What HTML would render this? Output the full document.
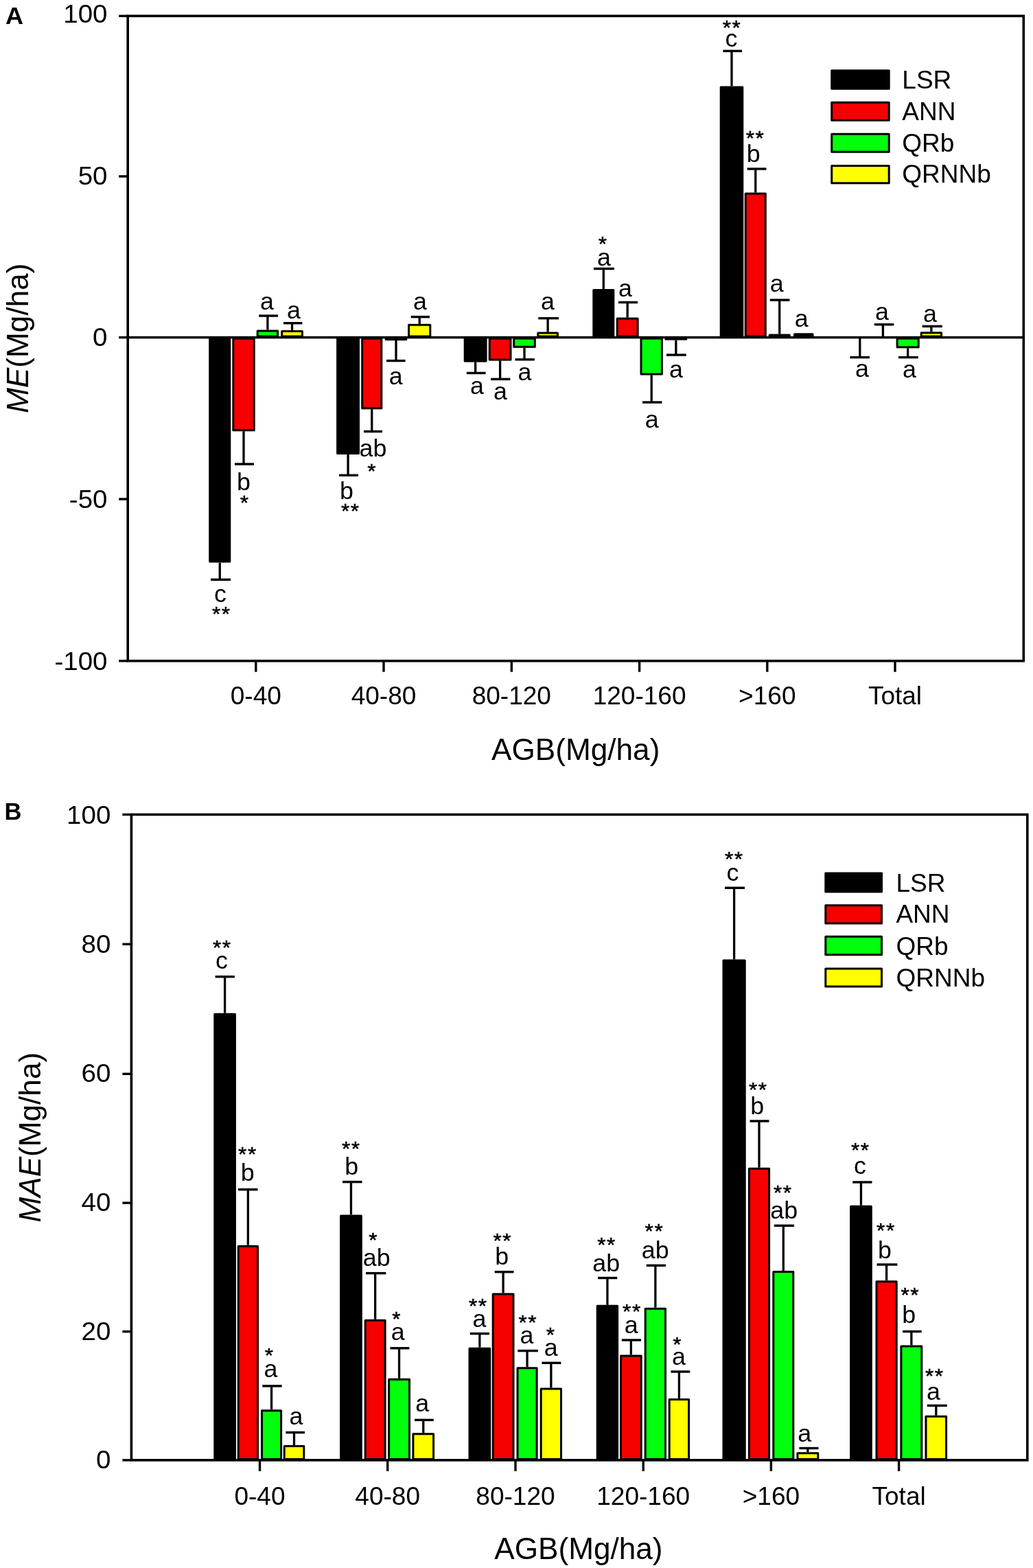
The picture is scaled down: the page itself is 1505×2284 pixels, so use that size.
<!DOCTYPE html>
<html lang="en">
<head>
<meta charset="utf-8">
<title>ME and MAE by AGB class</title>
<style>
html,body{margin:0;padding:0;background:#fff;}
body{width:1505px;height:2284px;overflow:hidden;}
svg{display:block;}
svg text{font-family:"Liberation Sans",sans-serif;fill:#000;}
</style>
</head>
<body>
<svg role="img" aria-label="Bar charts of ME and MAE by AGB class for LSR, ANN, QRb and QRNNb" width="1505" height="2284" viewBox="0 0 1505 2284">
<rect x="0" y="0" width="1505" height="2284" fill="#ffffff"/>
<line x1="320.25" y1="819.60" x2="320.25" y2="844.30" stroke="#000" stroke-width="3.3" stroke-linecap="butt"/>
<line x1="307.00" y1="844.30" x2="336.00" y2="844.30" stroke="#000" stroke-width="3.4" stroke-linecap="butt"/>
<rect x="305.70" y="493.00" width="29.10" height="325.10" fill="#000000" stroke="#000" stroke-width="3.0" stroke-linejoin="round"/>
<text transform="translate(321.00,876.50) scale(1.01,1)" font-size="35.5" text-anchor="middle">c</text>
<text transform="translate(322.80,904.30) scale(1.07,1)" font-size="29.5" text-anchor="middle" letter-spacing="1.5" stroke="#000" stroke-width="0.5">**</text>
<line x1="355.00" y1="628.20" x2="355.00" y2="676.00" stroke="#000" stroke-width="3.3" stroke-linecap="butt"/>
<line x1="342.00" y1="676.00" x2="370.00" y2="676.00" stroke="#000" stroke-width="3.4" stroke-linecap="butt"/>
<rect x="339.80" y="493.00" width="30.40" height="133.70" fill="#f60000" stroke="#000" stroke-width="3.0" stroke-linejoin="round"/>
<text transform="translate(355.00,713.90) scale(1.01,1)" font-size="35.5" text-anchor="middle">b</text>
<text transform="translate(356.80,741.50) scale(1.07,1)" font-size="29.5" text-anchor="middle" letter-spacing="1.5" stroke="#000" stroke-width="0.5">*</text>
<line x1="389.90" y1="480.40" x2="389.90" y2="460.00" stroke="#000" stroke-width="3.3" stroke-linecap="butt"/>
<line x1="377.20" y1="460.00" x2="405.00" y2="460.00" stroke="#000" stroke-width="3.4" stroke-linecap="butt"/>
<rect x="375.20" y="481.90" width="29.40" height="8.10" fill="#00ff0c" stroke="#000" stroke-width="3.0" stroke-linejoin="round"/>
<text transform="translate(389.00,451.40) scale(1.01,1)" font-size="35.5" text-anchor="middle">a</text>
<line x1="425.55" y1="480.90" x2="425.55" y2="470.70" stroke="#000" stroke-width="3.3" stroke-linecap="butt"/>
<line x1="413.00" y1="470.70" x2="440.40" y2="470.70" stroke="#000" stroke-width="3.4" stroke-linecap="butt"/>
<rect x="410.70" y="482.40" width="29.70" height="7.60" fill="#ffff00" stroke="#000" stroke-width="3.0" stroke-linejoin="round"/>
<text transform="translate(428.00,463.50) scale(1.01,1)" font-size="35.5" text-anchor="middle">a</text>
<line x1="507.05" y1="662.00" x2="507.05" y2="692.30" stroke="#000" stroke-width="3.3" stroke-linecap="butt"/>
<line x1="494.00" y1="692.30" x2="522.00" y2="692.30" stroke="#000" stroke-width="3.4" stroke-linecap="butt"/>
<rect x="491.60" y="493.00" width="30.90" height="167.50" fill="#000000" stroke="#000" stroke-width="3.0" stroke-linejoin="round"/>
<text transform="translate(505.00,726.80) scale(1.01,1)" font-size="35.5" text-anchor="middle">b</text>
<text transform="translate(510.80,753.50) scale(1.07,1)" font-size="29.5" text-anchor="middle" letter-spacing="1.5" stroke="#000" stroke-width="0.5">**</text>
<line x1="541.75" y1="596.20" x2="541.75" y2="628.50" stroke="#000" stroke-width="3.3" stroke-linecap="butt"/>
<line x1="530.00" y1="628.50" x2="557.00" y2="628.50" stroke="#000" stroke-width="3.4" stroke-linecap="butt"/>
<rect x="527.70" y="493.00" width="28.10" height="101.70" fill="#f60000" stroke="#000" stroke-width="3.0" stroke-linejoin="round"/>
<text transform="translate(543.50,664.90) scale(1.01,1)" font-size="35.5" text-anchor="middle">ab</text>
<text transform="translate(542.20,696.20) scale(1.07,1)" font-size="29.5" text-anchor="middle" letter-spacing="1.5" stroke="#000" stroke-width="0.5">*</text>
<line x1="577.00" y1="496.00" x2="577.00" y2="525.50" stroke="#000" stroke-width="3.3" stroke-linecap="butt"/>
<line x1="563.00" y1="525.50" x2="590.60" y2="525.50" stroke="#000" stroke-width="3.4" stroke-linecap="butt"/>
<rect x="562.20" y="493.00" width="29.60" height="1.50" fill="#000000" stroke="#000" stroke-width="3.0" stroke-linejoin="round"/>
<text transform="translate(576.70,559.50) scale(1.01,1)" font-size="35.5" text-anchor="middle">a</text>
<line x1="611.20" y1="471.80" x2="611.20" y2="461.60" stroke="#000" stroke-width="3.3" stroke-linecap="butt"/>
<line x1="598.70" y1="461.60" x2="626.00" y2="461.60" stroke="#000" stroke-width="3.4" stroke-linecap="butt"/>
<rect x="595.60" y="473.30" width="31.20" height="16.70" fill="#ffff00" stroke="#000" stroke-width="3.0" stroke-linejoin="round"/>
<text transform="translate(612.00,450.60) scale(1.01,1)" font-size="35.5" text-anchor="middle">a</text>
<line x1="692.65" y1="527.40" x2="692.65" y2="543.40" stroke="#000" stroke-width="3.3" stroke-linecap="butt"/>
<line x1="679.80" y1="543.40" x2="707.60" y2="543.40" stroke="#000" stroke-width="3.4" stroke-linecap="butt"/>
<rect x="677.20" y="493.00" width="30.90" height="32.90" fill="#000000" stroke="#000" stroke-width="3.0" stroke-linejoin="round"/>
<text transform="translate(695.00,573.90) scale(1.01,1)" font-size="35.5" text-anchor="middle">a</text>
<line x1="728.60" y1="525.40" x2="728.60" y2="552.30" stroke="#000" stroke-width="3.3" stroke-linecap="butt"/>
<line x1="715.00" y1="552.30" x2="743.40" y2="552.30" stroke="#000" stroke-width="3.4" stroke-linecap="butt"/>
<rect x="713.20" y="493.00" width="30.80" height="30.90" fill="#f60000" stroke="#000" stroke-width="3.0" stroke-linejoin="round"/>
<text transform="translate(729.00,582.20) scale(1.01,1)" font-size="35.5" text-anchor="middle">a</text>
<line x1="764.00" y1="506.70" x2="764.00" y2="523.70" stroke="#000" stroke-width="3.3" stroke-linecap="butt"/>
<line x1="750.50" y1="523.70" x2="778.80" y2="523.70" stroke="#000" stroke-width="3.4" stroke-linecap="butt"/>
<rect x="748.70" y="493.00" width="30.60" height="12.20" fill="#00ff0c" stroke="#000" stroke-width="3.0" stroke-linejoin="round"/>
<text transform="translate(764.40,553.70) scale(1.01,1)" font-size="35.5" text-anchor="middle">a</text>
<line x1="798.10" y1="483.60" x2="798.10" y2="463.60" stroke="#000" stroke-width="3.3" stroke-linecap="butt"/>
<line x1="784.30" y1="463.60" x2="814.00" y2="463.60" stroke="#000" stroke-width="3.4" stroke-linecap="butt"/>
<rect x="783.80" y="485.10" width="28.60" height="4.90" fill="#ffff00" stroke="#000" stroke-width="3.0" stroke-linejoin="round"/>
<text transform="translate(798.00,450.90) scale(1.01,1)" font-size="35.5" text-anchor="middle">a</text>
<line x1="879.30" y1="420.90" x2="879.30" y2="391.40" stroke="#000" stroke-width="3.3" stroke-linecap="butt"/>
<line x1="865.00" y1="391.40" x2="895.00" y2="391.40" stroke="#000" stroke-width="3.4" stroke-linecap="butt"/>
<rect x="864.80" y="422.40" width="29.00" height="67.60" fill="#000000" stroke="#000" stroke-width="3.0" stroke-linejoin="round"/>
<text transform="translate(880.00,386.90) scale(1.01,1)" font-size="35.5" text-anchor="middle">a</text>
<text transform="translate(878.80,364.50) scale(1.07,1)" font-size="29.5" text-anchor="middle" letter-spacing="1.5" stroke="#000" stroke-width="0.5">*</text>
<line x1="914.15" y1="462.60" x2="914.15" y2="440.40" stroke="#000" stroke-width="3.3" stroke-linecap="butt"/>
<line x1="901.00" y1="440.40" x2="929.00" y2="440.40" stroke="#000" stroke-width="3.4" stroke-linecap="butt"/>
<rect x="899.20" y="464.10" width="29.90" height="25.90" fill="#f60000" stroke="#000" stroke-width="3.0" stroke-linejoin="round"/>
<text transform="translate(911.00,431.70) scale(1.01,1)" font-size="35.5" text-anchor="middle">a</text>
<line x1="949.20" y1="546.40" x2="949.20" y2="586.00" stroke="#000" stroke-width="3.3" stroke-linecap="butt"/>
<line x1="936.00" y1="586.00" x2="964.40" y2="586.00" stroke="#000" stroke-width="3.4" stroke-linecap="butt"/>
<rect x="934.00" y="493.00" width="30.40" height="51.90" fill="#00ff0c" stroke="#000" stroke-width="3.0" stroke-linejoin="round"/>
<text transform="translate(949.70,622.90) scale(1.01,1)" font-size="35.5" text-anchor="middle">a</text>
<line x1="984.85" y1="495.50" x2="984.85" y2="517.00" stroke="#000" stroke-width="3.3" stroke-linecap="butt"/>
<line x1="971.00" y1="517.00" x2="999.70" y2="517.00" stroke="#000" stroke-width="3.4" stroke-linecap="butt"/>
<rect x="969.90" y="493.00" width="29.90" height="1.00" fill="#000000" stroke="#000" stroke-width="3.0" stroke-linejoin="round"/>
<text transform="translate(985.00,550.40) scale(1.01,1)" font-size="35.5" text-anchor="middle">a</text>
<line x1="1066.00" y1="125.40" x2="1066.00" y2="74.30" stroke="#000" stroke-width="3.3" stroke-linecap="butt"/>
<line x1="1053.40" y1="74.30" x2="1081.00" y2="74.30" stroke="#000" stroke-width="3.4" stroke-linecap="butt"/>
<rect x="1050.20" y="126.90" width="31.60" height="363.10" fill="#000000" stroke="#000" stroke-width="3.0" stroke-linejoin="round"/>
<text transform="translate(1065.50,68.10) scale(1.01,1)" font-size="35.5" text-anchor="middle">c</text>
<text transform="translate(1066.60,49.90) scale(1.07,1)" font-size="29.5" text-anchor="middle" letter-spacing="1.5" stroke="#000" stroke-width="0.5">**</text>
<line x1="1100.75" y1="280.50" x2="1100.75" y2="246.00" stroke="#000" stroke-width="3.3" stroke-linecap="butt"/>
<line x1="1088.70" y1="246.00" x2="1116.50" y2="246.00" stroke="#000" stroke-width="3.4" stroke-linecap="butt"/>
<rect x="1086.20" y="282.00" width="29.10" height="208.00" fill="#f60000" stroke="#000" stroke-width="3.0" stroke-linejoin="round"/>
<text transform="translate(1097.60,235.90) scale(1.01,1)" font-size="35.5" text-anchor="middle">b</text>
<text transform="translate(1100.60,211.00) scale(1.07,1)" font-size="29.5" text-anchor="middle" letter-spacing="1.5" stroke="#000" stroke-width="0.5">**</text>
<line x1="1135.70" y1="486.60" x2="1135.70" y2="437.00" stroke="#000" stroke-width="3.3" stroke-linecap="butt"/>
<line x1="1121.80" y1="437.00" x2="1150.50" y2="437.00" stroke="#000" stroke-width="3.4" stroke-linecap="butt"/>
<rect x="1121.20" y="488.10" width="29.00" height="1.90" fill="#000000" stroke="#000" stroke-width="3.0" stroke-linejoin="round"/>
<text transform="translate(1131.80,424.60) scale(1.01,1)" font-size="35.5" text-anchor="middle">a</text>
<rect x="1157.50" y="486.70" width="26.50" height="3.30" fill="#000000" stroke="#000" stroke-width="3.0" stroke-linejoin="round"/>
<text transform="translate(1167.70,475.90) scale(1.01,1)" font-size="35.5" text-anchor="middle">a</text>
<line x1="1252.80" y1="491.50" x2="1252.80" y2="520.50" stroke="#000" stroke-width="3.3" stroke-linecap="butt"/>
<line x1="1238.40" y1="520.50" x2="1267.00" y2="520.50" stroke="#000" stroke-width="3.4" stroke-linecap="butt"/>
<text transform="translate(1256.00,548.60) scale(1.01,1)" font-size="35.5" text-anchor="middle">a</text>
<line x1="1286.40" y1="491.50" x2="1286.40" y2="472.70" stroke="#000" stroke-width="3.3" stroke-linecap="butt"/>
<line x1="1273.80" y1="472.70" x2="1302.30" y2="472.70" stroke="#000" stroke-width="3.4" stroke-linecap="butt"/>
<text transform="translate(1285.00,465.90) scale(1.01,1)" font-size="35.5" text-anchor="middle">a</text>
<line x1="1322.65" y1="507.30" x2="1322.65" y2="520.50" stroke="#000" stroke-width="3.3" stroke-linecap="butt"/>
<line x1="1309.00" y1="520.50" x2="1337.70" y2="520.50" stroke="#000" stroke-width="3.4" stroke-linecap="butt"/>
<rect x="1307.10" y="493.00" width="31.10" height="12.80" fill="#00ff0c" stroke="#000" stroke-width="3.0" stroke-linejoin="round"/>
<text transform="translate(1325.00,550.40) scale(1.01,1)" font-size="35.5" text-anchor="middle">a</text>
<line x1="1356.90" y1="483.20" x2="1356.90" y2="475.30" stroke="#000" stroke-width="3.3" stroke-linecap="butt"/>
<line x1="1343.70" y1="475.30" x2="1372.80" y2="475.30" stroke="#000" stroke-width="3.4" stroke-linecap="butt"/>
<rect x="1342.20" y="484.70" width="29.40" height="5.30" fill="#ffff00" stroke="#000" stroke-width="3.0" stroke-linejoin="round"/>
<text transform="translate(1355.00,468.60) scale(1.01,1)" font-size="35.5" text-anchor="middle">a</text>
<rect x="186.2" y="23.3" width="1305.1" height="939.4000000000001" fill="none" stroke="#000" stroke-width="3.6"/>
<line x1="186.20" y1="491.50" x2="1491.30" y2="491.50" stroke="#000" stroke-width="3.4" stroke-linecap="butt"/>
<line x1="173.20" y1="23.30" x2="186.20" y2="23.30" stroke="#000" stroke-width="3.4" stroke-linecap="butt"/>
<text transform="translate(156.50,33.00) scale(1.03,1)" font-size="37.4" text-anchor="end">100</text>
<line x1="173.20" y1="256.90" x2="186.20" y2="256.90" stroke="#000" stroke-width="3.4" stroke-linecap="butt"/>
<text transform="translate(156.50,268.70) scale(1.03,1)" font-size="37.4" text-anchor="end">50</text>
<line x1="173.20" y1="491.50" x2="186.20" y2="491.50" stroke="#000" stroke-width="3.4" stroke-linecap="butt"/>
<text transform="translate(156.50,504.20) scale(1.03,1)" font-size="37.4" text-anchor="end">0</text>
<line x1="173.20" y1="727.00" x2="186.20" y2="727.00" stroke="#000" stroke-width="3.4" stroke-linecap="butt"/>
<text transform="translate(156.50,739.70) scale(1.03,1)" font-size="37.4" text-anchor="end">-50</text>
<line x1="173.20" y1="962.70" x2="186.20" y2="962.70" stroke="#000" stroke-width="3.4" stroke-linecap="butt"/>
<text transform="translate(156.50,975.50) scale(1.03,1)" font-size="37.4" text-anchor="end">-100</text>
<line x1="372.80" y1="962.70" x2="372.80" y2="978.70" stroke="#000" stroke-width="3.4" stroke-linecap="butt"/>
<text transform="translate(372.80,1025.50) scale(0.99,1)" font-size="37.4" text-anchor="middle">0-40</text>
<line x1="559.00" y1="962.70" x2="559.00" y2="978.70" stroke="#000" stroke-width="3.4" stroke-linecap="butt"/>
<text transform="translate(559.00,1025.50) scale(0.99,1)" font-size="37.4" text-anchor="middle">40-80</text>
<line x1="745.30" y1="962.70" x2="745.30" y2="978.70" stroke="#000" stroke-width="3.4" stroke-linecap="butt"/>
<text transform="translate(745.30,1025.50) scale(0.99,1)" font-size="37.4" text-anchor="middle">80-120</text>
<line x1="931.60" y1="962.70" x2="931.60" y2="978.70" stroke="#000" stroke-width="3.4" stroke-linecap="butt"/>
<text transform="translate(931.60,1025.50) scale(0.99,1)" font-size="37.4" text-anchor="middle">120-160</text>
<line x1="1117.80" y1="962.70" x2="1117.80" y2="978.70" stroke="#000" stroke-width="3.4" stroke-linecap="butt"/>
<text transform="translate(1117.80,1025.50) scale(0.99,1)" font-size="37.4" text-anchor="middle">&gt;160</text>
<line x1="1304.00" y1="962.70" x2="1304.00" y2="978.70" stroke="#000" stroke-width="3.4" stroke-linecap="butt"/>
<text transform="translate(1304.00,1025.50) scale(0.99,1)" font-size="37.4" text-anchor="middle">Total</text>
<rect x="1211.70" y="102.80" width="83.50" height="26.40" fill="#000000" stroke="#000" stroke-width="3.0" stroke-linejoin="round"/>
<text transform="translate(1314.30,128.50) scale(1.015,1)" font-size="36.5" text-anchor="start">LSR</text>
<rect x="1211.70" y="149.20" width="83.50" height="26.10" fill="#f60000" stroke="#000" stroke-width="3.0" stroke-linejoin="round"/>
<text transform="translate(1314.30,174.50) scale(1.015,1)" font-size="36.5" text-anchor="start">ANN</text>
<rect x="1211.70" y="195.30" width="83.50" height="25.90" fill="#00ff0c" stroke="#000" stroke-width="3.0" stroke-linejoin="round"/>
<text transform="translate(1314.30,220.90) scale(1.015,1)" font-size="36.5" text-anchor="start">QRb</text>
<rect x="1211.70" y="241.40" width="83.50" height="25.40" fill="#ffff00" stroke="#000" stroke-width="3.0" stroke-linejoin="round"/>
<text transform="translate(1314.30,266.00) scale(1.015,1)" font-size="36.5" text-anchor="start">QRNNb</text>
<text transform="translate(838.70,1106.80) scale(1.008,1)" font-size="43.8" text-anchor="middle">AGB(Mg/ha)</text>
<text transform="translate(41.2,492.7) rotate(-90) scale(1.008,1)" font-size="43.8" text-anchor="middle"><tspan font-style="italic">ME</tspan>(Mg/ha)</text>
<text transform="translate(7.90,35.20) scale(1.03,1)" font-size="35" text-anchor="start" font-weight="bold">A</text>
<line x1="327.60" y1="1475.70" x2="327.60" y2="1422.70" stroke="#000" stroke-width="3.3" stroke-linecap="butt"/>
<line x1="313.60" y1="1422.70" x2="341.90" y2="1422.70" stroke="#000" stroke-width="3.4" stroke-linecap="butt"/>
<rect x="312.80" y="1477.20" width="29.60" height="648.20" fill="#000000" stroke="#000" stroke-width="3.0" stroke-linejoin="round"/>
<text transform="translate(323.00,1410.90) scale(1.01,1)" font-size="35.5" text-anchor="middle">c</text>
<text transform="translate(323.80,1389.50) scale(1.07,1)" font-size="29.5" text-anchor="middle" letter-spacing="1.5" stroke="#000" stroke-width="0.5">**</text>
<line x1="361.35" y1="1813.70" x2="361.35" y2="1732.70" stroke="#000" stroke-width="3.3" stroke-linecap="butt"/>
<line x1="347.00" y1="1732.70" x2="375.50" y2="1732.70" stroke="#000" stroke-width="3.4" stroke-linecap="butt"/>
<rect x="347.20" y="1815.20" width="28.30" height="310.20" fill="#f60000" stroke="#000" stroke-width="3.0" stroke-linejoin="round"/>
<text transform="translate(360.80,1719.90) scale(1.01,1)" font-size="35.5" text-anchor="middle">b</text>
<text transform="translate(361.00,1690.50) scale(1.07,1)" font-size="29.5" text-anchor="middle" letter-spacing="1.5" stroke="#000" stroke-width="0.5">**</text>
<line x1="395.55" y1="2053.20" x2="395.55" y2="2018.90" stroke="#000" stroke-width="3.3" stroke-linecap="butt"/>
<line x1="382.30" y1="2018.90" x2="410.60" y2="2018.90" stroke="#000" stroke-width="3.4" stroke-linecap="butt"/>
<rect x="381.50" y="2054.70" width="28.10" height="70.70" fill="#00ff0c" stroke="#000" stroke-width="3.0" stroke-linejoin="round"/>
<text transform="translate(394.40,2006.40) scale(1.01,1)" font-size="35.5" text-anchor="middle">a</text>
<text transform="translate(392.70,1983.90) scale(1.07,1)" font-size="29.5" text-anchor="middle" letter-spacing="1.5" stroke="#000" stroke-width="0.5">*</text>
<line x1="428.50" y1="2105.00" x2="428.50" y2="2086.60" stroke="#000" stroke-width="3.3" stroke-linecap="butt"/>
<line x1="416.40" y1="2086.60" x2="444.00" y2="2086.60" stroke="#000" stroke-width="3.4" stroke-linecap="butt"/>
<rect x="414.20" y="2106.50" width="28.60" height="18.90" fill="#ffff00" stroke="#000" stroke-width="3.0" stroke-linejoin="round"/>
<text transform="translate(431.50,2075.30) scale(1.01,1)" font-size="35.5" text-anchor="middle">a</text>
<line x1="511.45" y1="1769.40" x2="511.45" y2="1721.60" stroke="#000" stroke-width="3.3" stroke-linecap="butt"/>
<line x1="499.00" y1="1721.60" x2="527.50" y2="1721.60" stroke="#000" stroke-width="3.4" stroke-linecap="butt"/>
<rect x="496.60" y="1770.90" width="29.70" height="354.50" fill="#000000" stroke="#000" stroke-width="3.0" stroke-linejoin="round"/>
<text transform="translate(512.30,1710.50) scale(1.01,1)" font-size="35.5" text-anchor="middle">b</text>
<text transform="translate(511.80,1683.30) scale(1.07,1)" font-size="29.5" text-anchor="middle" letter-spacing="1.5" stroke="#000" stroke-width="0.5">**</text>
<line x1="546.65" y1="1921.80" x2="546.65" y2="1854.60" stroke="#000" stroke-width="3.3" stroke-linecap="butt"/>
<line x1="533.00" y1="1854.60" x2="562.30" y2="1854.60" stroke="#000" stroke-width="3.4" stroke-linecap="butt"/>
<rect x="532.20" y="1923.30" width="28.90" height="202.10" fill="#f60000" stroke="#000" stroke-width="3.0" stroke-linejoin="round"/>
<text transform="translate(548.70,1843.70) scale(1.01,1)" font-size="35.5" text-anchor="middle">ab</text>
<text transform="translate(544.20,1815.90) scale(1.07,1)" font-size="29.5" text-anchor="middle" letter-spacing="1.5" stroke="#000" stroke-width="0.5">*</text>
<line x1="581.55" y1="2007.80" x2="581.55" y2="1963.80" stroke="#000" stroke-width="3.3" stroke-linecap="butt"/>
<line x1="568.40" y1="1963.80" x2="596.40" y2="1963.80" stroke="#000" stroke-width="3.4" stroke-linecap="butt"/>
<rect x="566.60" y="2009.30" width="29.90" height="116.10" fill="#00ff0c" stroke="#000" stroke-width="3.0" stroke-linejoin="round"/>
<text transform="translate(579.70,1951.60) scale(1.01,1)" font-size="35.5" text-anchor="middle">a</text>
<text transform="translate(578.30,1931.40) scale(1.07,1)" font-size="29.5" text-anchor="middle" letter-spacing="1.5" stroke="#000" stroke-width="0.5">*</text>
<line x1="616.75" y1="2087.30" x2="616.75" y2="2068.40" stroke="#000" stroke-width="3.3" stroke-linecap="butt"/>
<line x1="604.00" y1="2068.40" x2="631.80" y2="2068.40" stroke="#000" stroke-width="3.4" stroke-linecap="butt"/>
<rect x="601.90" y="2088.80" width="29.70" height="36.60" fill="#ffff00" stroke="#000" stroke-width="3.0" stroke-linejoin="round"/>
<text transform="translate(615.30,2055.80) scale(1.01,1)" font-size="35.5" text-anchor="middle">a</text>
<line x1="698.85" y1="1962.70" x2="698.85" y2="1942.60" stroke="#000" stroke-width="3.3" stroke-linecap="butt"/>
<line x1="684.80" y1="1942.60" x2="713.00" y2="1942.60" stroke="#000" stroke-width="3.4" stroke-linecap="butt"/>
<rect x="684.00" y="1964.20" width="29.70" height="161.20" fill="#000000" stroke="#000" stroke-width="3.0" stroke-linejoin="round"/>
<text transform="translate(698.50,1932.60) scale(1.01,1)" font-size="35.5" text-anchor="middle">a</text>
<text transform="translate(696.80,1911.90) scale(1.07,1)" font-size="29.5" text-anchor="middle" letter-spacing="1.5" stroke="#000" stroke-width="0.5">**</text>
<line x1="733.10" y1="1883.50" x2="733.10" y2="1852.70" stroke="#000" stroke-width="3.3" stroke-linecap="butt"/>
<line x1="720.70" y1="1852.70" x2="748.50" y2="1852.70" stroke="#000" stroke-width="3.4" stroke-linecap="butt"/>
<rect x="718.20" y="1885.00" width="29.80" height="240.40" fill="#f60000" stroke="#000" stroke-width="3.0" stroke-linejoin="round"/>
<text transform="translate(731.30,1842.20) scale(1.01,1)" font-size="35.5" text-anchor="middle">b</text>
<text transform="translate(732.30,1816.50) scale(1.07,1)" font-size="29.5" text-anchor="middle" letter-spacing="1.5" stroke="#000" stroke-width="0.5">**</text>
<line x1="768.05" y1="1991.30" x2="768.05" y2="1967.60" stroke="#000" stroke-width="3.3" stroke-linecap="butt"/>
<line x1="754.30" y1="1967.60" x2="783.80" y2="1967.60" stroke="#000" stroke-width="3.4" stroke-linecap="butt"/>
<rect x="754.00" y="1992.80" width="28.10" height="132.60" fill="#00ff0c" stroke="#000" stroke-width="3.0" stroke-linejoin="round"/>
<text transform="translate(767.40,1957.40) scale(1.01,1)" font-size="35.5" text-anchor="middle">a</text>
<text transform="translate(769.30,1936.40) scale(1.07,1)" font-size="29.5" text-anchor="middle" letter-spacing="1.5" stroke="#000" stroke-width="0.5">**</text>
<line x1="802.85" y1="2021.60" x2="802.85" y2="1985.30" stroke="#000" stroke-width="3.3" stroke-linecap="butt"/>
<line x1="789.40" y1="1985.30" x2="817.40" y2="1985.30" stroke="#000" stroke-width="3.4" stroke-linecap="butt"/>
<rect x="788.20" y="2023.10" width="29.30" height="102.30" fill="#ffff00" stroke="#000" stroke-width="3.0" stroke-linejoin="round"/>
<text transform="translate(802.80,1974.90) scale(1.01,1)" font-size="35.5" text-anchor="middle">a</text>
<text transform="translate(802.80,1954.10) scale(1.07,1)" font-size="29.5" text-anchor="middle" letter-spacing="1.5" stroke="#000" stroke-width="0.5">*</text>
<line x1="884.90" y1="1900.80" x2="884.90" y2="1861.50" stroke="#000" stroke-width="3.3" stroke-linecap="butt"/>
<line x1="871.00" y1="1861.50" x2="899.20" y2="1861.50" stroke="#000" stroke-width="3.4" stroke-linecap="butt"/>
<rect x="870.20" y="1902.30" width="29.40" height="223.10" fill="#000000" stroke="#000" stroke-width="3.0" stroke-linejoin="round"/>
<text transform="translate(883.20,1852.30) scale(1.01,1)" font-size="35.5" text-anchor="middle">ab</text>
<text transform="translate(884.10,1822.70) scale(1.07,1)" font-size="29.5" text-anchor="middle" letter-spacing="1.5" stroke="#000" stroke-width="0.5">**</text>
<line x1="919.35" y1="1973.60" x2="919.35" y2="1952.00" stroke="#000" stroke-width="3.3" stroke-linecap="butt"/>
<line x1="905.80" y1="1952.00" x2="934.00" y2="1952.00" stroke="#000" stroke-width="3.4" stroke-linecap="butt"/>
<rect x="904.50" y="1975.10" width="29.70" height="150.30" fill="#f60000" stroke="#000" stroke-width="3.0" stroke-linejoin="round"/>
<text transform="translate(919.70,1941.50) scale(1.01,1)" font-size="35.5" text-anchor="middle">a</text>
<text transform="translate(921.00,1920.00) scale(1.07,1)" font-size="29.5" text-anchor="middle" letter-spacing="1.5" stroke="#000" stroke-width="0.5">**</text>
<line x1="954.85" y1="1904.70" x2="954.85" y2="1843.30" stroke="#000" stroke-width="3.3" stroke-linecap="butt"/>
<line x1="941.70" y1="1843.30" x2="970.00" y2="1843.30" stroke="#000" stroke-width="3.4" stroke-linecap="butt"/>
<rect x="940.20" y="1906.20" width="29.30" height="219.20" fill="#00ff0c" stroke="#000" stroke-width="3.0" stroke-linejoin="round"/>
<text transform="translate(954.70,1833.40) scale(1.01,1)" font-size="35.5" text-anchor="middle">ab</text>
<text transform="translate(953.40,1803.30) scale(1.07,1)" font-size="29.5" text-anchor="middle" letter-spacing="1.5" stroke="#000" stroke-width="0.5">**</text>
<line x1="989.40" y1="2037.00" x2="989.40" y2="1998.00" stroke="#000" stroke-width="3.3" stroke-linecap="butt"/>
<line x1="977.50" y1="1998.00" x2="1005.30" y2="1998.00" stroke="#000" stroke-width="3.4" stroke-linecap="butt"/>
<rect x="975.20" y="2038.50" width="28.40" height="86.90" fill="#ffff00" stroke="#000" stroke-width="3.0" stroke-linejoin="round"/>
<text transform="translate(988.90,1987.60) scale(1.01,1)" font-size="35.5" text-anchor="middle">a</text>
<text transform="translate(987.20,1968.10) scale(1.07,1)" font-size="29.5" text-anchor="middle" letter-spacing="1.5" stroke="#000" stroke-width="0.5">*</text>
<line x1="1069.60" y1="1397.50" x2="1069.60" y2="1293.30" stroke="#000" stroke-width="3.3" stroke-linecap="butt"/>
<line x1="1056.00" y1="1293.30" x2="1085.00" y2="1293.30" stroke="#000" stroke-width="3.4" stroke-linecap="butt"/>
<rect x="1054.00" y="1399.00" width="31.20" height="726.40" fill="#000000" stroke="#000" stroke-width="3.0" stroke-linejoin="round"/>
<text transform="translate(1067.50,1283.40) scale(1.01,1)" font-size="35.5" text-anchor="middle">c</text>
<text transform="translate(1069.80,1260.50) scale(1.07,1)" font-size="29.5" text-anchor="middle" letter-spacing="1.5" stroke="#000" stroke-width="0.5">**</text>
<line x1="1106.00" y1="1700.70" x2="1106.00" y2="1633.00" stroke="#000" stroke-width="3.3" stroke-linecap="butt"/>
<line x1="1092.50" y1="1633.00" x2="1120.50" y2="1633.00" stroke="#000" stroke-width="3.4" stroke-linecap="butt"/>
<rect x="1091.40" y="1702.20" width="29.20" height="423.20" fill="#f60000" stroke="#000" stroke-width="3.0" stroke-linejoin="round"/>
<text transform="translate(1103.30,1622.60) scale(1.01,1)" font-size="35.5" text-anchor="middle">b</text>
<text transform="translate(1104.80,1597.30) scale(1.07,1)" font-size="29.5" text-anchor="middle" letter-spacing="1.5" stroke="#000" stroke-width="0.5">**</text>
<line x1="1141.30" y1="1851.00" x2="1141.30" y2="1785.30" stroke="#000" stroke-width="3.3" stroke-linecap="butt"/>
<line x1="1127.80" y1="1785.30" x2="1157.00" y2="1785.30" stroke="#000" stroke-width="3.4" stroke-linecap="butt"/>
<rect x="1126.80" y="1852.50" width="29.00" height="272.90" fill="#00ff0c" stroke="#000" stroke-width="3.0" stroke-linejoin="round"/>
<text transform="translate(1142.20,1774.90) scale(1.01,1)" font-size="35.5" text-anchor="middle">ab</text>
<text transform="translate(1140.80,1747.00) scale(1.07,1)" font-size="29.5" text-anchor="middle" letter-spacing="1.5" stroke="#000" stroke-width="0.5">**</text>
<line x1="1176.85" y1="2115.30" x2="1176.85" y2="2109.50" stroke="#000" stroke-width="3.3" stroke-linecap="butt"/>
<line x1="1164.40" y1="2109.50" x2="1192.50" y2="2109.50" stroke="#000" stroke-width="3.4" stroke-linecap="butt"/>
<rect x="1161.90" y="2116.80" width="29.90" height="8.60" fill="#ffff00" stroke="#000" stroke-width="3.0" stroke-linejoin="round"/>
<text transform="translate(1172.30,2099.50) scale(1.01,1)" font-size="35.5" text-anchor="middle">a</text>
<line x1="1254.45" y1="1755.70" x2="1254.45" y2="1722.00" stroke="#000" stroke-width="3.3" stroke-linecap="butt"/>
<line x1="1242.20" y1="1722.00" x2="1270.50" y2="1722.00" stroke="#000" stroke-width="3.4" stroke-linecap="butt"/>
<rect x="1239.60" y="1757.20" width="29.70" height="368.20" fill="#000000" stroke="#000" stroke-width="3.0" stroke-linejoin="round"/>
<text transform="translate(1253.00,1709.70) scale(1.01,1)" font-size="35.5" text-anchor="middle">c</text>
<text transform="translate(1253.80,1684.50) scale(1.07,1)" font-size="29.5" text-anchor="middle" letter-spacing="1.5" stroke="#000" stroke-width="0.5">**</text>
<line x1="1291.60" y1="1865.30" x2="1291.60" y2="1842.00" stroke="#000" stroke-width="3.3" stroke-linecap="butt"/>
<line x1="1277.60" y1="1842.00" x2="1307.40" y2="1842.00" stroke="#000" stroke-width="3.4" stroke-linecap="butt"/>
<rect x="1277.00" y="1866.80" width="29.20" height="258.60" fill="#f60000" stroke="#000" stroke-width="3.0" stroke-linejoin="round"/>
<text transform="translate(1289.00,1832.70) scale(1.01,1)" font-size="35.5" text-anchor="middle">b</text>
<text transform="translate(1291.00,1801.80) scale(1.07,1)" font-size="29.5" text-anchor="middle" letter-spacing="1.5" stroke="#000" stroke-width="0.5">**</text>
<line x1="1327.85" y1="1959.50" x2="1327.85" y2="1939.50" stroke="#000" stroke-width="3.3" stroke-linecap="butt"/>
<line x1="1315.00" y1="1939.50" x2="1342.70" y2="1939.50" stroke="#000" stroke-width="3.4" stroke-linecap="butt"/>
<rect x="1312.90" y="1961.00" width="29.90" height="164.40" fill="#00ff0c" stroke="#000" stroke-width="3.0" stroke-linejoin="round"/>
<text transform="translate(1324.30,1927.10) scale(1.01,1)" font-size="35.5" text-anchor="middle">b</text>
<text transform="translate(1326.30,1895.70) scale(1.07,1)" font-size="29.5" text-anchor="middle" letter-spacing="1.5" stroke="#000" stroke-width="0.5">**</text>
<line x1="1363.80" y1="2061.80" x2="1363.80" y2="2047.40" stroke="#000" stroke-width="3.3" stroke-linecap="butt"/>
<line x1="1350.80" y1="2047.40" x2="1379.80" y2="2047.40" stroke="#000" stroke-width="3.4" stroke-linecap="butt"/>
<rect x="1349.00" y="2063.30" width="29.60" height="62.10" fill="#ffff00" stroke="#000" stroke-width="3.0" stroke-linejoin="round"/>
<text transform="translate(1360.00,2038.90) scale(1.01,1)" font-size="35.5" text-anchor="middle">a</text>
<text transform="translate(1361.80,2014.20) scale(1.07,1)" font-size="29.5" text-anchor="middle" letter-spacing="1.5" stroke="#000" stroke-width="0.5">**</text>
<rect x="191.4" y="1186.5" width="1305.3999999999999" height="940.4000000000001" fill="none" stroke="#000" stroke-width="3.6"/>
<line x1="178.40" y1="1186.50" x2="191.40" y2="1186.50" stroke="#000" stroke-width="3.4" stroke-linecap="butt"/>
<text transform="translate(161.30,1199.50) scale(1.03,1)" font-size="37.4" text-anchor="end">100</text>
<line x1="178.40" y1="1375.30" x2="191.40" y2="1375.30" stroke="#000" stroke-width="3.4" stroke-linecap="butt"/>
<text transform="translate(161.30,1387.50) scale(1.03,1)" font-size="37.4" text-anchor="end">80</text>
<line x1="178.40" y1="1564.30" x2="191.40" y2="1564.30" stroke="#000" stroke-width="3.4" stroke-linecap="butt"/>
<text transform="translate(161.30,1576.40) scale(1.03,1)" font-size="37.4" text-anchor="end">60</text>
<line x1="178.40" y1="1752.20" x2="191.40" y2="1752.20" stroke="#000" stroke-width="3.4" stroke-linecap="butt"/>
<text transform="translate(161.30,1764.40) scale(1.03,1)" font-size="37.4" text-anchor="end">40</text>
<line x1="178.40" y1="1939.60" x2="191.40" y2="1939.60" stroke="#000" stroke-width="3.4" stroke-linecap="butt"/>
<text transform="translate(161.30,1951.80) scale(1.03,1)" font-size="37.4" text-anchor="end">20</text>
<line x1="178.40" y1="2126.90" x2="191.40" y2="2126.90" stroke="#000" stroke-width="3.4" stroke-linecap="butt"/>
<text transform="translate(161.30,2139.10) scale(1.03,1)" font-size="37.4" text-anchor="end">0</text>
<line x1="378.50" y1="2126.90" x2="378.50" y2="2142.90" stroke="#000" stroke-width="3.4" stroke-linecap="butt"/>
<text transform="translate(378.50,2192.20) scale(0.99,1)" font-size="37.4" text-anchor="middle">0-40</text>
<line x1="564.70" y1="2126.90" x2="564.70" y2="2142.90" stroke="#000" stroke-width="3.4" stroke-linecap="butt"/>
<text transform="translate(564.70,2192.20) scale(0.99,1)" font-size="37.4" text-anchor="middle">40-80</text>
<line x1="751.00" y1="2126.90" x2="751.00" y2="2142.90" stroke="#000" stroke-width="3.4" stroke-linecap="butt"/>
<text transform="translate(751.00,2192.20) scale(0.99,1)" font-size="37.4" text-anchor="middle">80-120</text>
<line x1="937.20" y1="2126.90" x2="937.20" y2="2142.90" stroke="#000" stroke-width="3.4" stroke-linecap="butt"/>
<text transform="translate(937.20,2192.20) scale(0.99,1)" font-size="37.4" text-anchor="middle">120-160</text>
<line x1="1123.40" y1="2126.90" x2="1123.40" y2="2142.90" stroke="#000" stroke-width="3.4" stroke-linecap="butt"/>
<text transform="translate(1123.40,2192.20) scale(0.99,1)" font-size="37.4" text-anchor="middle">&gt;160</text>
<line x1="1309.60" y1="2126.90" x2="1309.60" y2="2142.90" stroke="#000" stroke-width="3.4" stroke-linecap="butt"/>
<text transform="translate(1309.60,2192.20) scale(0.99,1)" font-size="37.4" text-anchor="middle">Total</text>
<rect x="1202.80" y="1272.10" width="81.70" height="26.80" fill="#000000" stroke="#000" stroke-width="3.0" stroke-linejoin="round"/>
<text transform="translate(1305.40,1298.90) scale(1.015,1)" font-size="36.5" text-anchor="start">LSR</text>
<rect x="1202.80" y="1318.80" width="81.70" height="26.10" fill="#f60000" stroke="#000" stroke-width="3.0" stroke-linejoin="round"/>
<text transform="translate(1305.40,1344.30) scale(1.015,1)" font-size="36.5" text-anchor="start">ANN</text>
<rect x="1202.80" y="1364.30" width="81.70" height="26.50" fill="#00ff0c" stroke="#000" stroke-width="3.0" stroke-linejoin="round"/>
<text transform="translate(1305.40,1390.60) scale(1.015,1)" font-size="36.5" text-anchor="start">QRb</text>
<rect x="1202.80" y="1411.00" width="81.70" height="26.00" fill="#ffff00" stroke="#000" stroke-width="3.0" stroke-linejoin="round"/>
<text transform="translate(1305.40,1436.50) scale(1.015,1)" font-size="36.5" text-anchor="start">QRNNb</text>
<text transform="translate(842.90,2271.00) scale(1.008,1)" font-size="43.8" text-anchor="middle">AGB(Mg/ha)</text>
<text transform="translate(58.7,1656.7) rotate(-90) scale(1.008,1)" font-size="43.8" text-anchor="middle"><tspan font-style="italic">MAE</tspan>(Mg/ha)</text>
<text transform="translate(6.50,1194.00) scale(0.985,1)" font-size="35" text-anchor="start" font-weight="bold">B</text>
</svg>
</body>
</html>
